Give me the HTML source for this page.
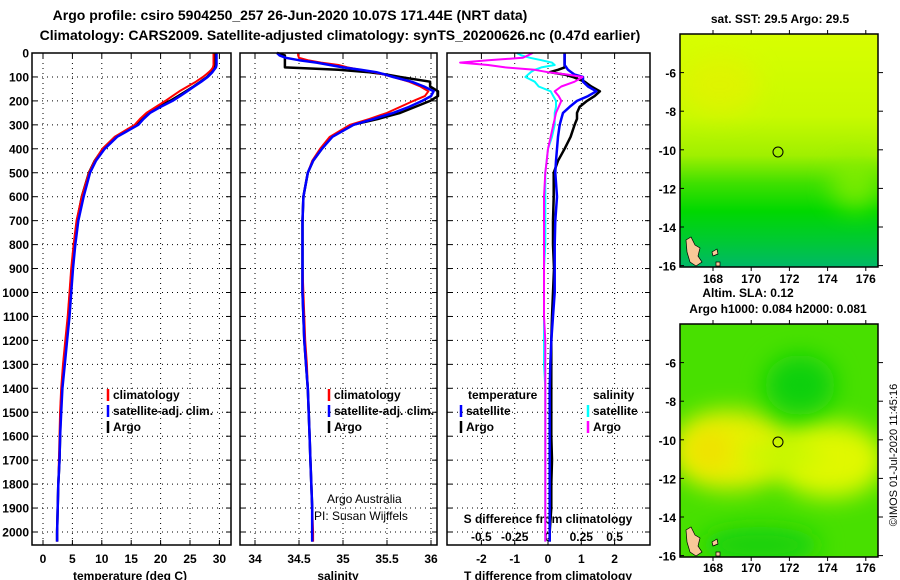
<!DOCTYPE html>
<html><head><meta charset="utf-8">
<style>
html,body{margin:0;padding:0;background:#fff;}
svg{display:block;font-family:"Liberation Sans",sans-serif;font-weight:bold;}
</style></head>
<body>
<svg id="chart" width="900" height="580" viewBox="0 0 900 580" xmlns="http://www.w3.org/2000/svg">
<defs>
 <linearGradient id="sstg" x1="0" y1="0" x2="0" y2="1">
  <stop offset="0" stop-color="#d8ff00"/><stop offset="0.35" stop-color="#c8fa00"/>
  <stop offset="0.52" stop-color="#a0f000"/><stop offset="0.64" stop-color="#40e000"/>
  <stop offset="0.76" stop-color="#00d800"/><stop offset="0.9" stop-color="#00c838"/>
  <stop offset="1" stop-color="#00b868"/>
 </linearGradient>
 <filter id="blur" filterUnits="userSpaceOnUse" x="600" y="0" width="300" height="580"><feGaussianBlur stdDeviation="12"/></filter>
 <clipPath id="cm1"><rect x="680" y="34" width="198" height="233"/></clipPath>
 <clipPath id="cm2"><rect x="680" y="324" width="198" height="233"/></clipPath>
</defs>
<text x="290" y="20" font-size="14" text-anchor="middle">Argo profile: csiro 5904250_257 26-Jun-2020 10.07S 171.44E (NRT data)</text>
<text x="340" y="40" font-size="14" text-anchor="middle">Climatology: CARS2009. Satellite-adjusted climatology: synTS_20200626.nc (0.47d earlier)</text>
<g id="panels"></g>
<g>
 <text x="780" y="23" font-size="12" text-anchor="middle">sat. SST: 29.5 Argo: 29.5</text>
 <g clip-path="url(#cm1)">
  <rect x="680" y="34" width="198" height="233" fill="url(#sstg)"/>
  <ellipse cx="720" cy="85" rx="40" ry="30" fill="#e8f000" opacity="0.6" filter="url(#blur)"/>
  <ellipse cx="855" cy="185" rx="25" ry="25" fill="#90f000" opacity="0.7" filter="url(#blur)"/>
 </g>
 <rect x="680" y="34" width="198" height="233" fill="none" stroke="#000" stroke-width="1.5"/>
 <circle cx="778" cy="152" r="5" fill="none" stroke="#000"/>
 <path d="M686 240 l5 -3 l4 8 l5 3 l-2 8 l4 6 l-6 4 l-6 -4 l-3 -10 z M712 252 l5 -3 l1 5 l-5 2 z M716 262 l4 0 l0 4 l-4 0z" fill="#f8c898" stroke="#000" stroke-width="0.7"/>
 <text x="748" y="297" font-size="12" text-anchor="middle">Altim. SLA: 0.12</text>
 <text x="778" y="313" font-size="12" text-anchor="middle">Argo h1000: 0.084 h2000: 0.081</text>
</g>
<g>
 <g clip-path="url(#cm2)">
  <rect x="680" y="324" width="198" height="233" fill="#48e000"/>
  <ellipse cx="730" cy="450" rx="60" ry="40" fill="#e8f000" filter="url(#blur)"/>
  <ellipse cx="830" cy="460" rx="55" ry="38" fill="#e0f800" filter="url(#blur)"/>
  <ellipse cx="780" cy="455" rx="40" ry="15" fill="#c8f800" filter="url(#blur)"/>
  <ellipse cx="800" cy="385" rx="35" ry="30" fill="#10d010" filter="url(#blur)"/>
  <ellipse cx="760" cy="545" rx="60" ry="18" fill="#18d010" filter="url(#blur)"/>
  <ellipse cx="710" cy="450" rx="20" ry="20" fill="#f0e000" filter="url(#blur)"/>
 </g>
 <rect x="680" y="324" width="198" height="233" fill="none" stroke="#000" stroke-width="1.5"/>
 <circle cx="778" cy="442" r="5" fill="none" stroke="#000"/>
 <path d="M686 530 l5 -3 l4 8 l5 3 l-2 8 l4 6 l-6 4 l-6 -4 l-3 -10 z M712 542 l5 -3 l1 5 l-5 2 z M716 552 l4 0 l0 4 l-4 0z" fill="#f8c898" stroke="#000" stroke-width="0.7"/>
 <text transform="translate(897,455) rotate(-90)" font-size="11" font-weight="normal" text-anchor="middle">©IMOS 01-Jul-2020 11:45:16</text>
</g>
<g id="mapaxes"></g>
<script>
var NS="http://www.w3.org/2000/svg";
var depths=[0,10,20,30,40,50,60,70,80,90,100,120,140,160,180,200,225,250,275,300,350,400,450,500,600,700,800,900,1000,1100,1200,1300,1400,1500,1600,1700,1800,1900,2000,2040];
var tempArgo=[29.3,29.3,29.3,29.3,29.3,29.3,29.2,29.0,28.7,28.3,27.9,26.8,25.6,24.3,23.0,21.6,19.6,17.8,16.8,15.9,12.3,10.2,8.8,7.8,6.6,5.8,5.3,4.9,4.6,4.3,3.9,3.5,3.2,3.0,2.9,2.8,2.6,2.5,2.4,2.4];
var tempClim=[29.0,29.0,29.0,29.0,29.0,29.0,28.9,28.6,28.2,27.7,27.2,26.0,24.6,23.2,22.0,20.8,19.2,17.6,16.5,15.6,12.2,10.1,8.8,7.8,6.6,5.7,5.2,4.8,4.5,4.2,3.8,3.4,3.1,2.9,2.8,2.7,2.6,2.5,2.4,2.4];
var tempSat=[29.5,29.5,29.5,29.5,29.5,29.5,29.4,29.1,28.8,28.4,28.0,26.9,25.7,24.5,23.3,22.0,20.0,18.2,17.1,16.2,12.6,10.5,9.0,8.0,6.9,6.0,5.5,5.1,4.8,4.5,4.1,3.7,3.3,3.1,2.9,2.8,2.6,2.5,2.4,2.4];
var salArgo=[34.25,34.34,34.34,34.34,34.34,34.34,34.34,34.95,35.3,35.5,35.65,35.99,35.99,36.08,36.08,35.99,35.82,35.65,35.4,35.11,34.87,34.76,34.66,34.6,34.55,34.54,34.54,34.54,34.54,34.55,34.56,34.58,34.6,34.61,34.62,34.63,34.64,34.65,34.65,34.65];
var salClim=[34.49,34.49,34.5,34.6,34.75,34.95,35.05,35.2,35.35,35.47,35.57,35.75,35.88,35.97,35.93,35.8,35.65,35.5,35.3,35.08,34.85,34.74,34.65,34.6,34.55,34.54,34.54,34.54,34.55,34.56,34.57,34.59,34.6,34.61,34.62,34.63,34.64,34.65,34.66,34.66];
var salSat=[34.25,34.28,34.35,34.5,34.7,34.85,35.0,35.2,35.38,35.48,35.57,35.78,35.92,36.03,36.0,35.9,35.75,35.57,35.35,35.12,34.88,34.76,34.66,34.6,34.55,34.54,34.54,34.54,34.54,34.55,34.56,34.58,34.6,34.61,34.62,34.63,34.64,34.65,34.65,34.65];
var dTsat=[0.5,0.5,0.5,0.5,0.5,0.5,0.55,0.6,0.7,0.8,1.05,1.05,1.2,1.45,1.2,0.87,0.65,0.45,0.4,0.35,0.3,0.27,0.24,0.22,0.27,0.22,0.2,0.2,0.2,0.15,0.1,0.07,0.05,0.05,0.05,0.05,0.05,0.05,0.05,0.05];
var dTargo=[0.5,0.5,0.5,0.5,0.5,0.5,0.5,0.3,0.05,0.5,0.75,1.1,1.3,1.56,1.4,1.17,0.95,0.87,0.87,0.8,0.68,0.5,0.3,0.17,0.17,0.15,0.15,0.18,0.15,0.12,0.1,0.1,0.1,0.1,0.1,0.12,0.1,0.1,0.05,0.05];
var dSsat=[-0.235,-0.2,-0.135,-0.05,0.03,0.05,-0.05,-0.1,-0.13,-0.15,-0.17,-0.1,-0.07,0.02,0.04,0.06,0.06,0.05,0.05,0.05,0.03,0.0,-0.01,-0.02,-0.02,-0.02,-0.02,-0.03,-0.03,-0.03,-0.03,-0.03,-0.02,-0.02,-0.02,-0.02,-0.02,-0.02,-0.02,-0.02];
var dSargo=[-0.115,-0.15,-0.19,-0.45,-0.66,-0.45,-0.32,-0.1,0.0,0.15,0.26,0.2,0.1,0.05,0.08,0.1,0.08,0.06,0.05,0.04,0.02,0.0,-0.01,-0.02,-0.03,-0.03,-0.03,-0.03,-0.03,-0.03,-0.02,-0.02,-0.02,-0.02,-0.02,-0.02,-0.02,-0.02,-0.02,-0.02];
var depthTicks=[0,100,200,300,400,500,600,700,800,900,1000,1100,1200,1300,1400,1500,1600,1700,1800,1900,2000];
var tempTicks=[0,5,10,15,20,25,30];
var salTicks=[34,34.5,35,35.5,36];
var salTickLabels=["34","34.5","35","35.5","36"];
var dTTicks=[-2,-1,0,1,2];
var dSTicks=[-0.5,-0.25,0,0.25,0.5];
var dSTickLabels=["-0.5","-0.25","0","0.25","0.5"];
var latTicks=[-6,-8,-10,-12,-14,-16];
var lonTicks=[168,170,172,174,176];
var TOP=53,BOT=545;
function yD(d){return 53+d*0.2395;}
function xT(t){return 43+t*5.88;}
function xS(s){return 255+(s-34)*88;}
function xDT(t){return 548+t*33.3;}
function xDS(s){return 548+s*133.2;}
var panels=[{x0:32,x1:231,name:"temperature"},{x0:240,x1:437,name:"salinity"},{x0:447,x1:650,name:"difference"}];
var root=document.getElementById("panels");
function mk(tag,attrs,parent){var e=document.createElementNS(NS,tag);for(var k in attrs)e.setAttribute(k,attrs[k]);(parent||root).appendChild(e);return e;}
function txt(s,x,y,size,anchor,parent,weight){var e=mk("text",{x:x,y:y,"font-size":size,"text-anchor":anchor||"middle"},parent);if(weight)e.setAttribute("font-weight",weight);e.textContent=s;return e;}
panels.forEach(function(p){
 var g=mk("g",{});
 
 
 depthTicks.forEach(function(d){
  var y=yD(d);
  if(d>0){var l=mk("line",{x1:p.x0,x2:p.x1,y1:y,y2:y,stroke:"#000","stroke-width":1,"stroke-dasharray":"1,4"},g);
   
   }
  mk("line",{x1:p.x0,x2:p.x0+5,y1:y,y2:y,stroke:"#000"},g);
  mk("line",{x1:p.x1-5,x2:p.x1,y1:y,y2:y,stroke:"#000"},g);
 });
 p.g=g;
});
function vgrid(p,xs,xf){xs.forEach(function(v){var x=xf(v);
 var l=mk("line",{x1:x,x2:x,y1:TOP,y2:BOT,stroke:"#000","stroke-dasharray":"1,4"},p.g);
 
 
 mk("line",{x1:x,x2:x,y1:TOP,y2:TOP+5,stroke:"#000"},p.g);
 mk("line",{x1:x,x2:x,y1:BOT-5,y2:BOT,stroke:"#000"},p.g);});}
vgrid(panels[0],tempTicks,xT);vgrid(panels[1],salTicks,xS);vgrid(panels[2],dTTicks,xDT);
depthTicks.forEach(function(d){var t=txt(String(d),29,yD(d)+4.5,12,"end");
 
 });
tempTicks.forEach(function(v){var t=txt(String(v),xT(v),563,12);});
salTicks.forEach(function(v,i){var t=txt(salTickLabels[i],xS(v),563,12);});
dTTicks.forEach(function(v){var t=txt(String(v),xDT(v),563,12);});
dSTicks.forEach(function(v,i){var t=txt(dSTickLabels[i],xDS(v),541,12);});
var a;
a=txt("temperature (deg C)",130,580,12);
a=txt("salinity",338,580,12);
a=txt("T difference from climatology",548,580,12);
a=txt("S difference from climatology",548,523,12);
a=txt("Argo Australia",327,503,12,"start",null,"normal");
a=txt("PI: Susan Wijffels",314,520,12,"start",null,"normal");
function line(vals,xf,color,w,name){
 var pts=vals.map(function(v,i){return xf(v).toFixed(1)+","+Math.min(yD(depths[i]),BOT-1).toFixed(1);}).join(" ");
 var e=mk("polyline",{points:pts,fill:"none",stroke:color,"stroke-width":w,"stroke-linejoin":"round"});
 
 
}
line(tempArgo,xT,"#000",2.5,"temperature-argo-line");
line(tempClim,xT,"#f00",2,"temperature-climatology-line");
line(tempSat,xT,"#00f",2.5,"temperature-satellite-line");
line(salArgo,xS,"#000",2.5,"salinity-argo-line");
line(salClim,xS,"#f00",2,"salinity-climatology-line");
line(salSat,xS,"#00f",2.5,"salinity-satellite-line");
line(dTargo,xDT,"#000",2.5,"t-diff-argo-line");
line(dTsat,xDT,"#00f",2.5,"t-diff-satellite-line");
line(dSsat,xDS,"#0ff",2,"s-diff-satellite-line");
line(dSargo,xDS,"#f0f",2,"s-diff-argo-line");
panels.forEach(function(p){var r=mk("rect",{x:p.x0,y:TOP,width:p.x1-p.x0,height:BOT-TOP,fill:"none",stroke:"#000","stroke-width":1.5});
 
 });
function leg(x,y,color,label,name){
 mk("line",{x1:x,x2:x,y1:y-10,y2:y+2,stroke:color,"stroke-width":2.5});
 var t=txt(label,x+5,y,12,"start");
 
 
}
leg(108,399,"#f00","climatology","legend-climatology");
leg(108,415,"#00f","satellite-adj. clim.","legend-satellite-adj");
leg(108,431,"#000","Argo","legend-argo");
leg(329,399,"#f00","climatology","legend-sal-climatology");
leg(329,415,"#00f","satellite-adj. clim.","legend-sal-satellite-adj");
leg(329,431,"#000","Argo","legend-sal-argo");
a=txt("temperature",468,399,12,"start");
a=txt("salinity",593,399,12,"start");
leg(461,415,"#00f","satellite","legend-t-satellite");
leg(461,431,"#000","Argo","legend-t-argo");
leg(588,415,"#0ff","satellite","legend-s-satellite");
leg(588,431,"#f0f","Argo","legend-s-argo");
var mg=document.getElementById("mapaxes");
[[34,267,283],[324,557,572]].forEach(function(m,k){
 latTicks.forEach(function(la){var y=m[0]+( -4-la)*19.3;
  mk("line",{x1:680,x2:684,y1:y,y2:y,stroke:"#000"},mg);mk("line",{x1:878,x2:883,y1:y,y2:y,stroke:"#000"},mg);
  var t=txt(String(la),676,y+5,12,"end",mg);});
 lonTicks.forEach(function(lo){var x=713+(lo-168)*19.1;
  mk("line",{x1:x,x2:x,y1:m[0]-4,y2:m[0],stroke:"#000"},mg);mk("line",{x1:x,x2:x,y1:m[1],y2:m[1]+4,stroke:"#000"},mg);
  var t=txt(String(lo),x,m[2],12,"middle",mg);});
});
</script>
</svg>
</body></html>
